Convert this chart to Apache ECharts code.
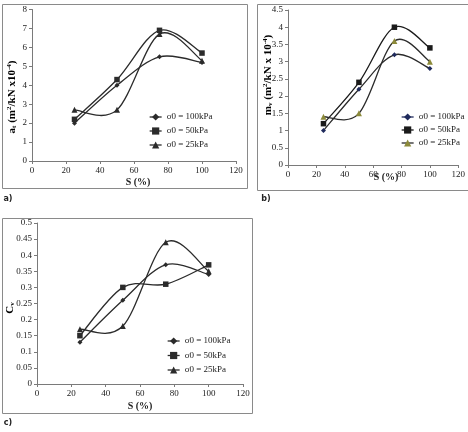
<!DOCTYPE html>
<html><head><meta charset="utf-8">
<script src="https://cdn.jsdelivr.net/npm/echarts@6/dist/echarts.min.js"></script>
<style>html,body{margin:0;padding:0;background:#fff}#c{width:468px;height:432px}</style>
</head><body><div id="c"></div>
<script>
const S = [25, 50, 75, 100];
const seriesNames = ['σ0 = 100kPa', 'σ0 = 50kPa', 'σ0 = 25kPa'];
// panel a: a_t
const a100 = [2.0, 4.0, 5.5, 5.2];
const a50 = [2.2, 4.3, 6.9, 5.7];
const a25 = [2.7, 2.7, 6.7, 5.3];
// panel b: m_v
const b100 = [1.0, 2.2, 3.2, 2.8];
const b50 = [1.2, 2.4, 4.0, 3.4];
const b25 = [1.4, 1.5, 3.6, 3.0];
// panel c: C_v
const c100 = [0.13, 0.26, 0.37, 0.34];
const c50 = [0.15, 0.30, 0.31, 0.37];
const c25 = [0.17, 0.18, 0.44, 0.35];
const xTicks = {min: 0, max: 120, interval: 20};
const yA = {min: 0, max: 8, interval: 1};
const yB = {min: 0, max: 4.5, interval: 0.5};
const yC = {min: 0, max: 0.5, interval: 0.05};

const serif = 'Liberation Serif';
const chart = echarts.init(document.getElementById('c'));
const axisCommon = {
  axisLine: {show: true, lineStyle: {color: '#7a7a7a', width: 1}},
  axisTick: {show: true, length: 3, lineStyle: {color: '#7a7a7a'}},
  axisLabel: {fontFamily: serif, fontSize: 9, color: '#222', margin: 5},
  splitLine: {show: false}
};
function xAxis(i) { return Object.assign({type: 'value', gridIndex: i}, xTicks, axisCommon); }
function yAxis(i, r) { return Object.assign({type: 'value', gridIndex: i}, r, axisCommon); }
const symbols = ['diamond', 'rect', 'triangle'];
const symSizes = [5, 5.5, 6];
// markers (line series with invisible line; the legend restores the line)
function mk(panel, idx, vals, color, mcolor) {
  const suffix = ' '.repeat(panel);
  return {
    type: 'line', name: seriesNames[idx] + suffix, xAxisIndex: panel, yAxisIndex: panel,
    data: S.map((s, i) => [s, vals[i]]), z: 3,
    symbol: symbols[idx], symbolSize: symSizes[idx],
    lineStyle: {color: color, width: 1.3, opacity: 0},
    itemStyle: {color: mcolor || color},
    emphasis: {disabled: true}, animation: false
  };
}
// Excel-style smoothed connecting curve (Catmull-Rom through the data points via axis coords)
function curve(panel, vals, color) {
  return {
    type: 'custom', xAxisIndex: panel, yAxisIndex: panel, z: 2, silent: true,
    data: S.map((s, i) => [s, vals[i]]),
    renderItem: function (params, api) {
      const i = params.dataIndex, n = S.length;
      if (i >= n - 1) return null;
      const P = k => api.coord([S[Math.max(0, Math.min(n - 1, k))], vals[Math.max(0, Math.min(n - 1, k))]]);
      const p0 = P(i - 1), p1 = P(i), p2 = P(i + 1), p3 = P(i + 2);
      return {type: 'bezierCurve', shape: {
          x1: p1[0], y1: p1[1], x2: p2[0], y2: p2[1],
          cpx1: p1[0] + (p2[0] - p0[0]) / 6, cpy1: p1[1] + (p2[1] - p0[1]) / 6,
          cpx2: p2[0] - (p3[0] - p1[0]) / 6, cpy2: p2[1] - (p3[1] - p1[1]) / 6},
        style: {stroke: color, lineWidth: 1.3, fill: null}};
    },
    animation: false
  };
}
const legendCommon = {orient: 'vertical', itemWidth: 12, itemHeight: 9, padding: 0,
  textStyle: {fontFamily: serif, fontSize: 9, color: '#222'},
  lineStyle: {opacity: 1, width: 1.3},
  formatter: n => n.trim(), selectedMode: false};
function yname(x, y, parts, fs) {
  return {type: 'text', x: x, y: y, rotation: Math.PI / 2,
    style: {text: parts, align: 'center', verticalAlign: 'middle',
      rich: {b: {fontFamily: serif, fontWeight: 'bold', fontSize: fs, color: '#222', lineHeight: 12, verticalAlign: 'middle'},
             sub: {fontFamily: serif, fontWeight: 'bold', fontSize: 7, color: '#222', lineHeight: 12, verticalAlign: 'bottom', padding: [4, 0, 0, 0]},
             sup: {fontFamily: serif, fontWeight: 'bold', fontSize: 7, color: '#222', lineHeight: 12, verticalAlign: 'top', padding: [0, 0, 4, 0]}}}};
}
function txt(x, y, t, font, size) {
  return {type: 'text', x: x, y: y, style: {text: t, fontFamily: font, fontWeight: 'bold', fontSize: size, fill: '#222', align: 'center', verticalAlign: 'middle'}};
}
function box(x, y, w, h) {
  return {type: 'rect', shape: {x: x + 0.5, y: y + 0.5, width: w, height: h}, style: {fill: 'none', stroke: '#8a8a8a', lineWidth: 1}, z: -1};
}
const dark = '#2b2b2b';
chart.setOption({
  animation: false,
  grid: [
    {left: 32, top: 9.5, width: 204, height: 151.5},
    {left: 288, top: 10, width: 199, height: 155},
    {left: 37, top: 223, width: 206, height: 161}
  ],
  xAxis: [xAxis(0), xAxis(1), xAxis(2)],
  yAxis: [yAxis(0, yA), yAxis(1, yB), yAxis(2, yC)],
  legend: [
    Object.assign({left: 149, top: 112.5, itemGap: 5, data: seriesNames}, legendCommon),
    Object.assign({left: 401, top: 112.5, itemGap: 4, data: seriesNames.map(n => n + ' ')}, legendCommon),
    Object.assign({left: 167, top: 336.5, itemGap: 5.5, data: seriesNames.map(n => n + '  ')}, legendCommon)
  ],
  series: [
    curve(0, a100, dark), curve(0, a50, dark), curve(0, a25, dark),
    curve(1, b100, dark), curve(1, b50, '#1a1a1a'), curve(1, b25, dark),
    curve(2, c100, dark), curve(2, c50, dark), curve(2, c25, dark),
    mk(0, 0, a100, dark), mk(0, 1, a50, dark), mk(0, 2, a25, dark),
    mk(1, 0, b100, '#1f2a5c', '#1f2a5c'), mk(1, 1, b50, '#1a1a1a'), mk(1, 2, b25, dark, '#8c8a3a'),
    mk(2, 0, c100, dark), mk(2, 1, c50, dark), mk(2, 2, c25, dark)
  ],
  graphic: [
    box(2, 4, 245, 184), box(257, 4, 230, 186), box(2, 218, 250, 195),
    yname(12, 97, '{b|a}{sub|t}{b| (m}{sup|2}{b|/kN x10}{sup|-4}{b|)}', 11),
    yname(268, 75, '{b|m}{sub|v}{b| (m}{sup|2}{b|/kN x 10}{sup|-4}{b|)}', 11),
    yname(10, 308, '{b|C}{sub|v}', 11),
    txt(138, 182, 'S (%)', serif, 10),
    txt(386, 177, 'S (%)', serif, 10),
    txt(140, 406, 'S (%)', serif, 10),
    txt(8, 199, 'a)', 'DejaVu Sans', 8),
    txt(266, 199, 'b)', 'DejaVu Sans', 8),
    txt(8, 423, 'c)', 'DejaVu Sans', 8)
  ]
});
</script></body></html>
